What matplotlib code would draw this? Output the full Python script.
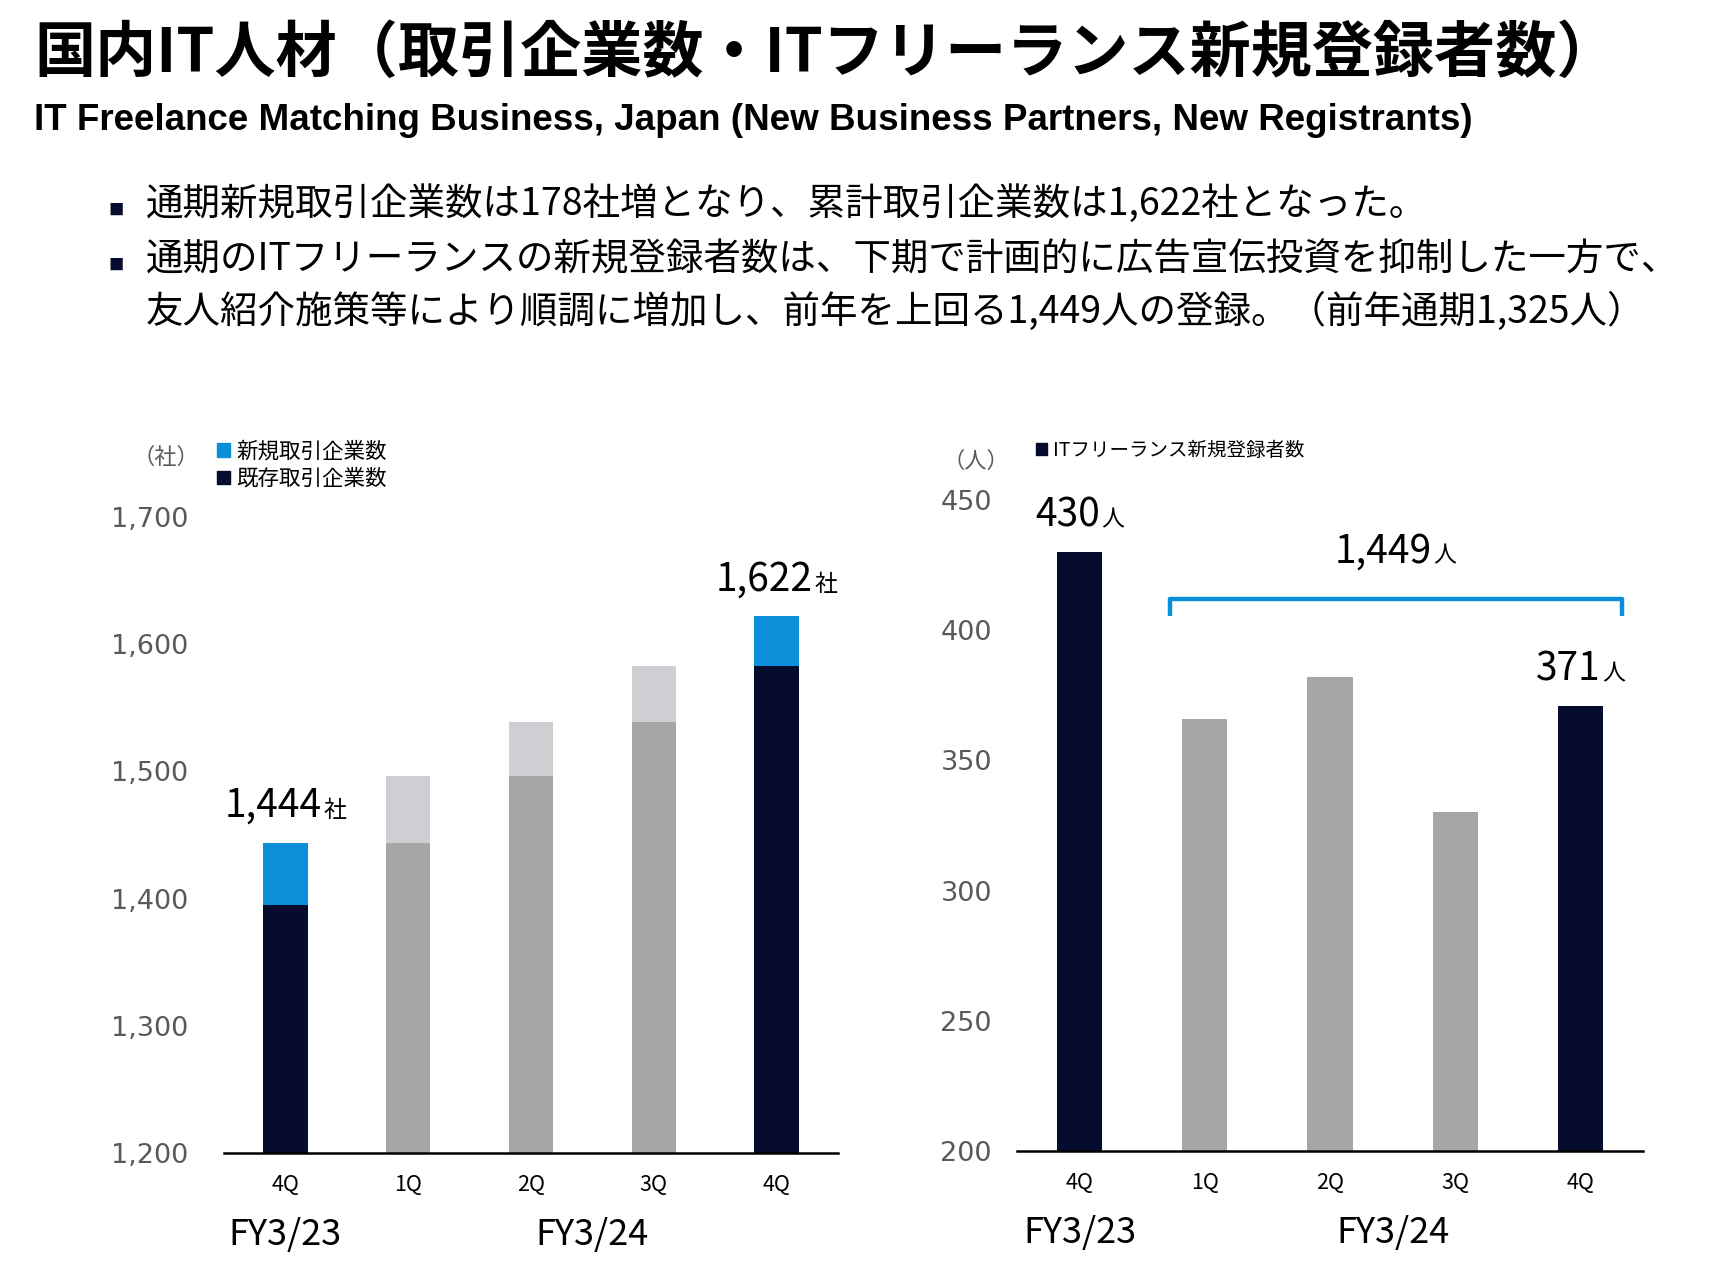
import matplotlib
matplotlib.use('Agg')
import matplotlib.pyplot as plt
from matplotlib.patches import Patch
from matplotlib.offsetbox import TextArea, HPacker, AnnotationBbox

plt.rcParams['font.family'] = ['Noto Sans CJK JP', 'DejaVu Sans']

# ---- data ----
quarters = ['4Q', '1Q', '2Q', '3Q', '4Q']
fy_labels = ['FY3/23', 'FY3/24']
existing = [1395, 1444, 1496, 1539, 1583]   # 既存取引企業数
new = [49, 52, 43, 44, 39]                  # 新規取引企業数
registrants = [430, 366, 382, 330, 371]     # ITフリーランス新規登録者数
highlight = [True, False, False, False, True]

title = '国内IT人材（取引企業数・ITフリーランス新規登録者数）'
subtitle = 'IT Freelance Matching Business, Japan (New Business Partners, New Registrants)'
bullets = ['通期新規取引企業数は178社増となり、累計取引企業数は1,622社となった。',
           '通期のITフリーランスの新規登録者数は、下期で計画的に広告宣伝投資を抑制した一方で、\n'
           '友人紹介施策等により順調に増加し、前年を上回る1,449人の登録。（前年通期1,325人）']

navy = '#050C2E'
blue = '#0A8FD8'
gray = '#A6A6A6'
lgray = '#CECFD3'
tick_gray = '#595959'

fig = plt.figure(figsize=(17.14, 12.74), dpi=100)
W, H = 1714, 1274

fig.text(34 / W, 1 - 54 / H, title, fontsize=44, fontweight='bold', ha='left', va='center')
fig.text(34 / W, 1 - 121 / H, subtitle, fontsize=26.5, fontweight='bold', ha='left', va='center',
         family=['Liberation Sans', 'DejaVu Sans'])

# bullets
fig.text(108 / W, 1 - 210 / H, '■', fontsize=11, color=navy, ha='left', va='center')
fig.text(146 / W, 1 - 204 / H, bullets[0], fontsize=27, ha='left', va='center')
fig.text(108 / W, 1 - 265 / H, '■', fontsize=11, color=navy, ha='left', va='center')
fig.text(146 / W, 1 - 286 / H, bullets[1], fontsize=27, ha='left', va='center', linespacing=1.42)


def value_label(ax, x, y, num, unit, dy=12):
    t1 = TextArea(num, textprops=dict(fontsize=28, color='black'))
    t2 = TextArea(unit, textprops=dict(fontsize=16.5, color='black'))
    box = HPacker(children=[t1, t2], align='baseline', pad=0, sep=1)
    ab = AnnotationBbox(box, (x, y), xybox=(0, dy), xycoords='data', boxcoords='offset points',
                        box_alignment=(0.5, 0), frameon=False)
    ax.add_artist(ab)


def style_axis(ax, pad_y):
    for s in ['left', 'right', 'top']:
        ax.spines[s].set_visible(False)
    ax.spines['bottom'].set_linewidth(1.8)
    ax.tick_params(axis='y', length=0, pad=pad_y, labelsize=19.5, labelcolor=tick_gray)
    ax.tick_params(axis='x', length=0, pad=15, labelsize=15.5)
    for lab in ax.get_yticklabels():
        lab.set_family(['DejaVu Sans'])
    ax.set_xlim(-0.5, len(quarters) - 0.5)
    ax.set_xticks(range(len(quarters)))
    ax.set_xticklabels(quarters)
    ax.annotate(fy_labels[0], xy=(0, 0), xycoords=('data', 'axes fraction'), xytext=(0, -59),
                textcoords='offset points', ha='center', va='center', fontsize=26)
    ax.annotate(fy_labels[1], xy=(2.5, 0), xycoords=('data', 'axes fraction'), xytext=(0, -59),
                textcoords='offset points', ha='center', va='center', fontsize=26)


bw = 0.36
x = list(range(len(quarters)))

# ---- left: 取引企業数 ----
ax1 = fig.add_axes([224 / W, 1 - 1153 / H, (838 - 224) / W, (1153 - 517) / H])
base_c = [navy if h else gray for h in highlight]
top_c = [blue if h else lgray for h in highlight]
ax1.bar(x, existing, bw, color=base_c)
ax1.bar(x, new, bw, bottom=existing, color=top_c)
ax1.set_ylim(1200, 1700)
ax1.set_yticks(range(1200, 1701, 100))
ax1.set_yticklabels([f'{v:,}' for v in range(1200, 1701, 100)])
style_axis(ax1, 26)
totals = [e + n for e, n in zip(existing, new)]
for i in (0, 4):
    value_label(ax1, i, totals[i], f'{totals[i]:,}', '社')
ax1.legend(handles=[Patch(color=blue, label='新規取引企業数'), Patch(color=navy, label='既存取引企業数')],
           loc='upper left', bbox_to_anchor=(-0.012, 1.12), frameon=False, fontsize=15.5,
           handlelength=0.6, handleheight=0.6, handletextpad=0.3, labelspacing=0.25,
           borderpad=0, borderaxespad=0)
ax1.text(-0.04, 1.093, '（社）', transform=ax1.transAxes, ha='right', va='center',
         fontsize=16, color=tick_gray)

# ---- right: 新規登録者数 ----
ax2 = fig.add_axes([1017 / W, 1 - 1151 / H, (1643 - 1017) / W, (1151 - 500) / H])
ax2.bar(x, registrants, bw, color=base_c)
ax2.set_ylim(200, 450)
ax2.set_yticks(range(200, 451, 50))
style_axis(ax2, 18)
for i in (0, 4):
    value_label(ax2, i, registrants[i], f'{registrants[i]}', '人')
ax2.legend(handles=[Patch(color=navy, label='ITフリーランス新規登録者数')],
           loc='upper left', bbox_to_anchor=(0.03, 1.092), frameon=False, fontsize=14,
           handlelength=0.6, handleheight=0.6, handletextpad=0.3, borderpad=0, borderaxespad=0)
ax2.text(-0.012, 1.059, '（人）', transform=ax2.transAxes, ha='right', va='center',
         fontsize=16, color=tick_gray)

# bracket over FY3/24 quarters
bx0, bx1 = 1 - 0.28, 4 + 0.33
by0, by1 = 405.5, 412
ax2.plot([bx0, bx0, bx1, bx1], [by0, by1, by1, by0], color=blue, lw=3.2,
         solid_joinstyle='round', solid_capstyle='butt', clip_on=False)
value_label(ax2, (bx0 + bx1) / 2, by1, f'{sum(registrants[1:]):,}', '人', dy=20)

fig.savefig('out.png', dpi=100)
